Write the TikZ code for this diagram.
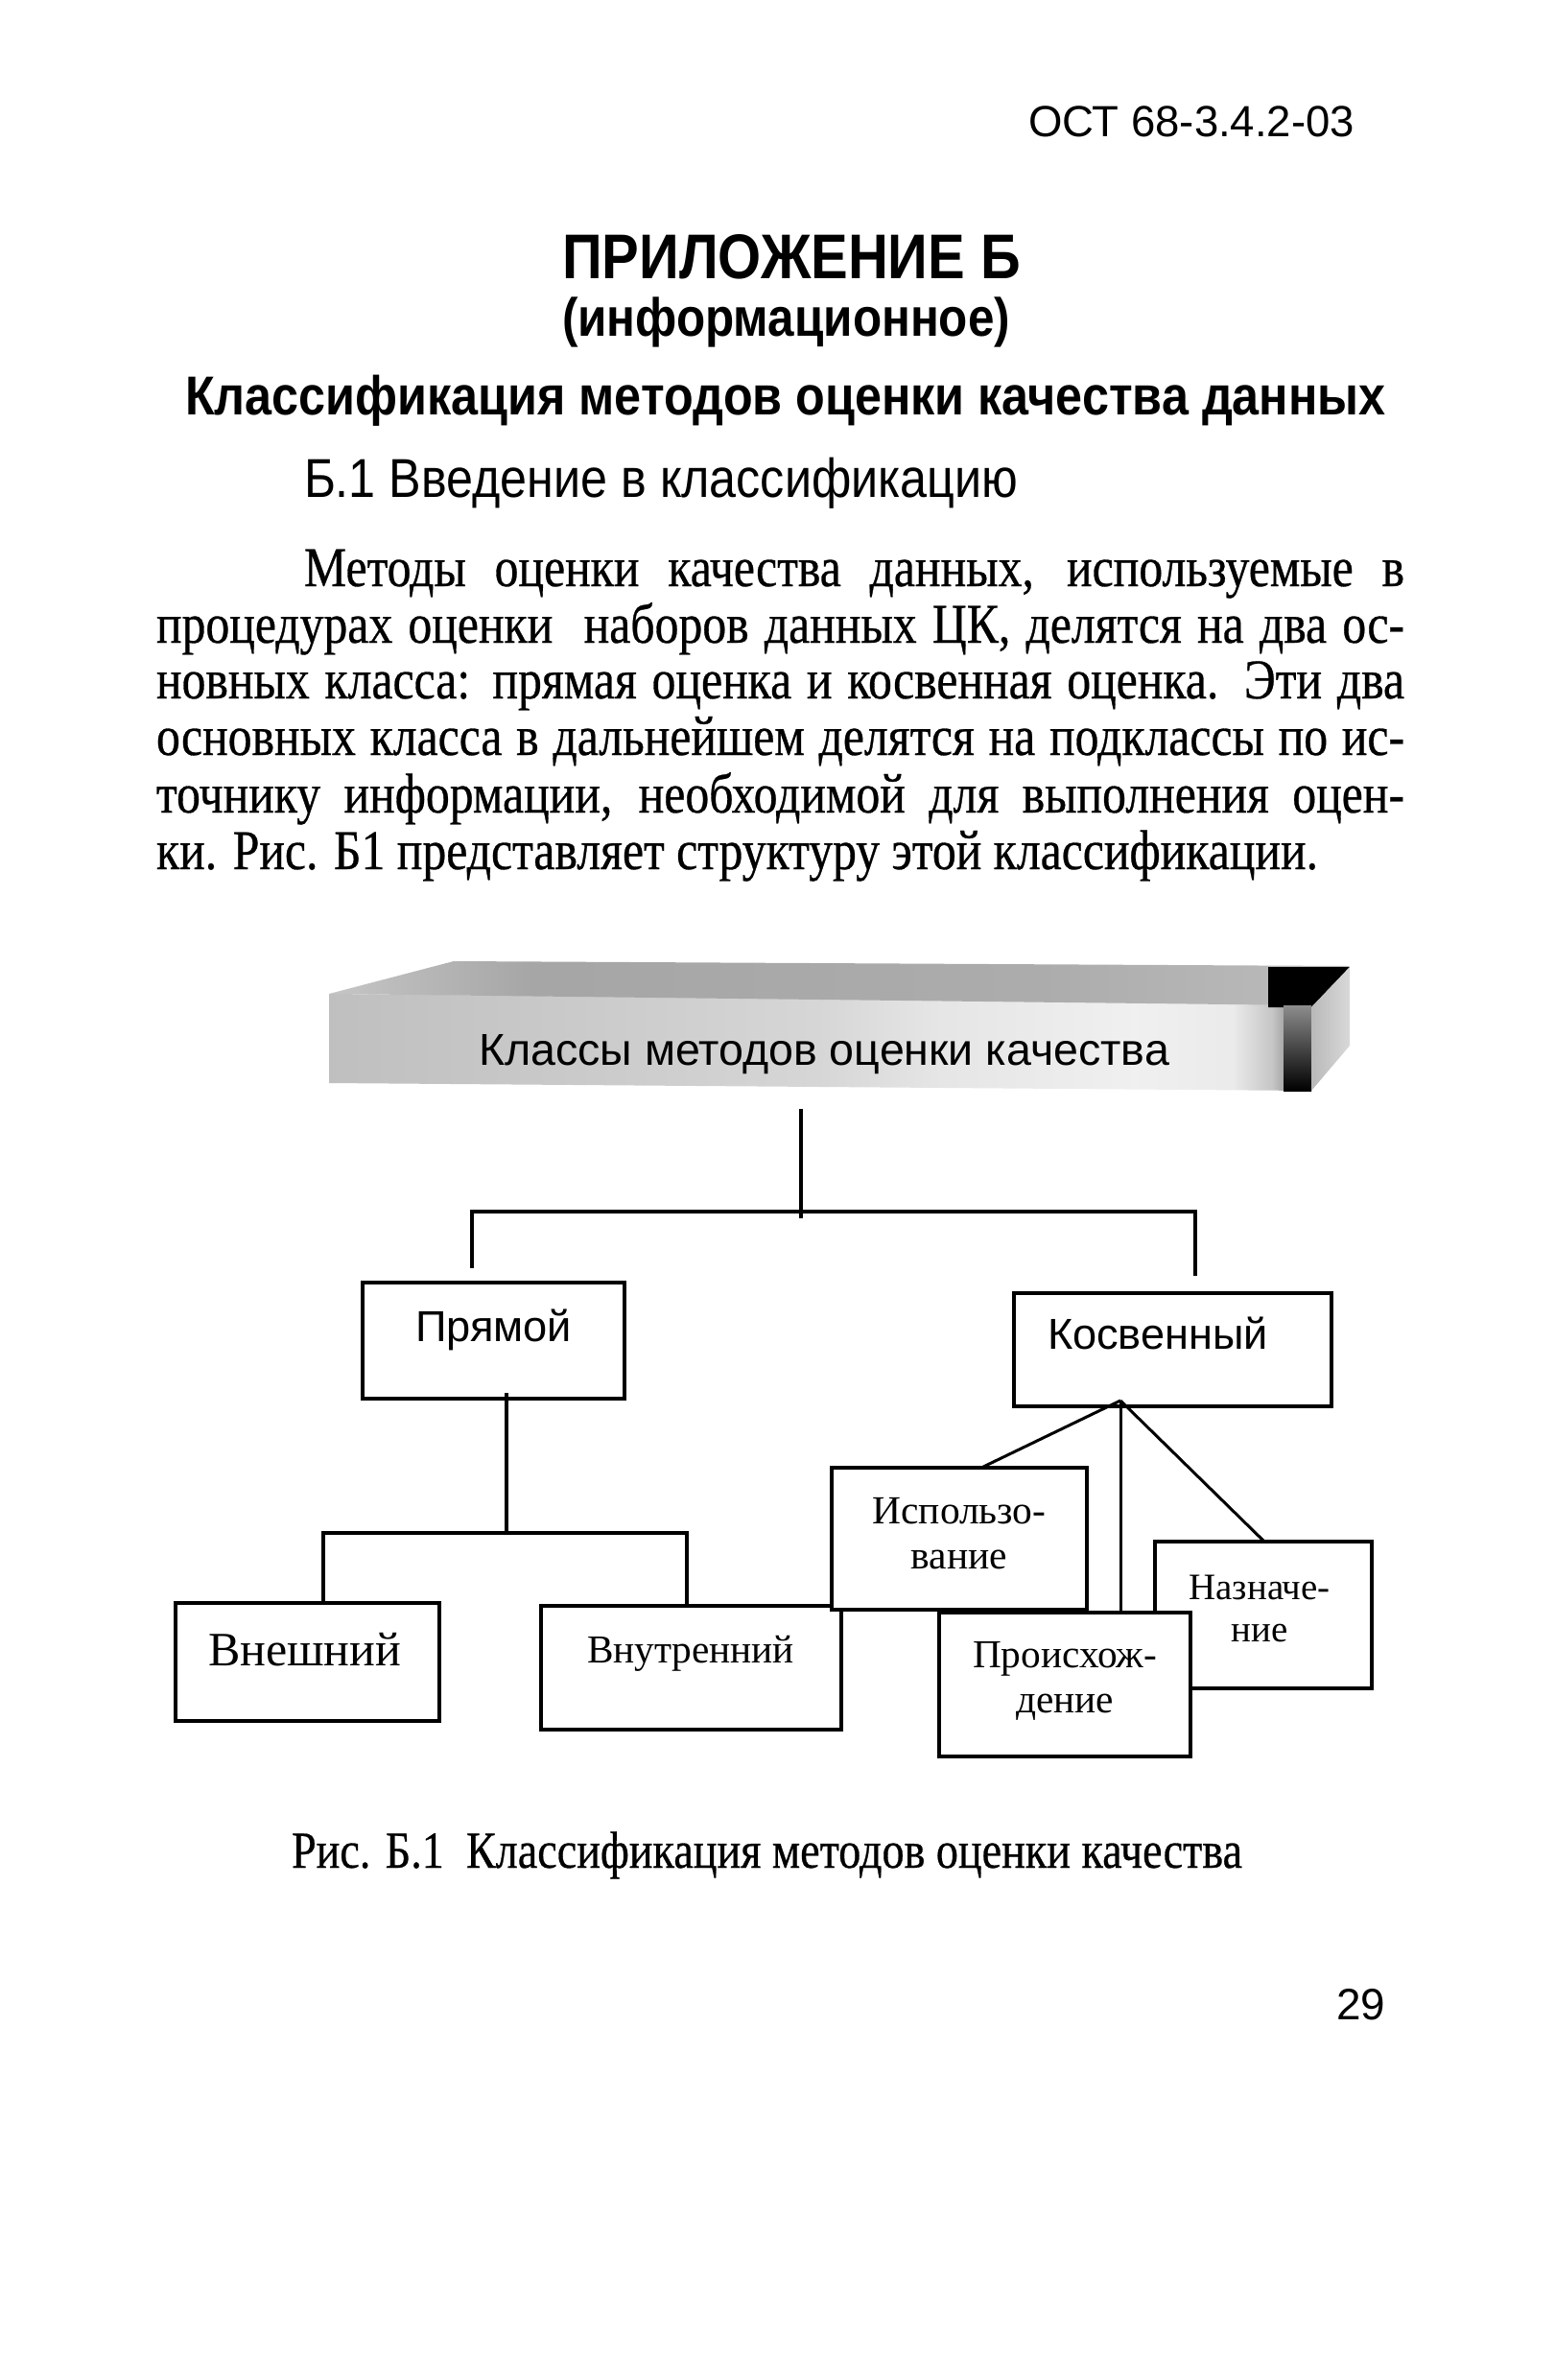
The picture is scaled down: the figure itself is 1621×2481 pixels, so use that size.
\documentclass[tikz,border=0pt]{standalone}
\usepackage{fontspec}
\usepackage{graphicx}
\setmainfont{Liberation Serif}
\setsansfont{Liberation Sans}
\newfontfamily\cserif[FakeStretch=0.85,FakeBold=0.5]{Liberation Serif}
\newfontfamily\csans[FakeStretch=0.88]{Liberation Sans}
\usetikzlibrary{calc}
\newlength\tmpw
\newcommand\fitsize[3]{\settowidth\tmpw{\fontsize{10pt}{12pt}\selectfont #3}\pgfmathsetmacro#1{10*#2/\tmpw}}
\pgfdeclarehorizontalshading{frontsh}{100bp}{color(0bp)=(gray!50); color(25bp)=(gray!50); color(37bp)=(gray!42); color(50bp)=(gray!32); color(56bp)=(gray!20); color(66bp)=(gray!12); color(71bp)=(gray!16); color(73bp)=(gray!45); color(74bp)=(gray!85); color(75bp)=(gray!80); color(100bp)=(gray!80)}
\pgfdeclarehorizontalshading{topsh}{100bp}{color(0bp)=(gray!45); color(25bp)=(gray!45); color(35bp)=(gray!70); color(60bp)=(gray!65); color(72bp)=(gray!55); color(75bp)=(gray!55); color(100bp)=(gray!55)}
\begin{document}
\fitsize\bsz{1211}{\cserif ки. Рис. Б1 представляет структуру этой классификации.}%
\begin{tikzpicture}[x=1pt,y=-1pt,
  txt/.style={inner sep=0pt, outer sep=0pt},
  bodyline/.style={txt, anchor=base west, font=\fontsize{\bsz pt}{\bsz pt}\cserif},
  box/.style={draw, line width=4.2pt, fill=white, inner sep=0pt, outer sep=0pt},
  conn/.style={line width=3.6pt},
  fan/.style={line width=3pt},
  two/.style={txt, anchor=base}]
\fill[white] (0,0) rectangle (1621,2481);
\useasboundingbox (0,0) rectangle (1621,2481);

% ---- page text ----
\node[txt, anchor=base west] (hdr) at (1072,142) {\resizebox{340pt}{!}{\sffamily ОСТ 68-3.4.2-03}};
\node[txt, anchor=base west] (app) at (586,290) {\resizebox{478pt}{!}{\csans\bfseries ПРИЛОЖЕНИЕ Б}};
\node[txt, anchor=base west] (inf) at (586,350) {\resizebox{467pt}{!}{\csans\bfseries (информационное)}};
\node[txt, anchor=base west] (ttl) at (193,432) {\resizebox{1251pt}{!}{\csans\bfseries Классификация методов оценки качества данных}};
\node[txt, anchor=base west] (sec) at (317,518) {\resizebox{744pt}{!}{\csans Б.1 Введение в классификацию}};

\node[bodyline] (l1) at (317,611) {\makebox[1147pt][s]{Методы оценки качества данных, используемые в}};
\node[bodyline] (l2) at (163,670) {\makebox[1301pt][s]{процедурах оценки\ \ наборов данных ЦК, делятся на два ос-}};
\node[bodyline] (l3) at (163,728) {\makebox[1301pt][s]{новных класса: прямая оценка и косвенная оценка. Эти два}};
\node[bodyline] (l4) at (163,787) {\makebox[1301pt][s]{основных класса в дальнейшем делятся на подклассы по ис-}};
\node[bodyline] (l5) at (163,847) {\makebox[1301pt][s]{точнику информации, необходимой для выполнения оцен-}};
\node[bodyline] (l6) at (163,906) {ки. Рис. Б1 представляет структуру этой классификации.};

\node[txt, anchor=base west] (cap) at (304,1947) {\resizebox{991pt}{!}{\cserif Рис. Б.1\ \ Классификация методов оценки качества}};
\node[txt, anchor=base east] (pg) at (1444,2105) {\resizebox{51pt}{!}{\sffamily 29}};

% ---- banner ----
\shade[shading=frontsh] (343,1036) -- (1367,1046) -- (1367,1137) -- (343,1129) -- cycle;
\shade[shading=topsh] (343,1036) -- (473,1002) -- (1407,1007) -- (1367,1048) -- cycle;
\fill[black] (1322,1008) -- (1407,1008) -- (1367,1050) -- (1322,1050) -- cycle;
\shade[top color=gray!90, bottom color=black] (1338,1048) rectangle (1367,1137);
\shade[left color=gray!55, right color=gray!30] (1367,1050) -- (1407,1008) -- (1407,1090) -- (1367,1137) -- cycle;
\node[txt, anchor=base west] (ban) at (499,1110) {\resizebox{720pt}{!}{\sffamily Классы методов оценки качества}};

% ---- boxes ----
\node[box, minimum width=273pt, minimum height=121pt] (prm) at (514.5,1397.5) {};
\node[box, minimum width=331pt, minimum height=118pt] (kos) at (1222.5,1407) {};
\node[box, minimum width=275pt, minimum height=123pt] (vne) at (320.5,1732.5) {};
\node[box, minimum width=313pt, minimum height=129pt] (vnu) at (720.5,1738.5) {};
\node[box, minimum width=266pt, minimum height=148pt] (isp) at (1000,1604) {};
\node[box, minimum width=226pt, minimum height=153pt] (naz) at (1317,1683.5) {};
\node[box, minimum width=262pt, minimum height=150pt] (pro) at (1110,1756) {};

% ---- labels ----
\node[txt, anchor=base west] (tprm) at (433,1398) {\resizebox{163pt}{!}{\sffamily Прямой}};
\node[txt, anchor=base west] (tkos) at (1092,1406) {\resizebox{230pt}{!}{\sffamily Косвенный}};
\node[txt, anchor=base west] (tvne) at (217,1736) {\resizebox{201pt}{!}{Внешний}};
\node[txt, anchor=base west] (tvnu) at (612,1733) {\resizebox{216pt}{!}{Внутренний}};
\node[two] (tisp) at (1000,1588) {\resizebox{181pt}{!}{\renewcommand\arraystretch{0.95}\begin{tabular}[t]{@{}c@{}}Использо-\\вание\end{tabular}}};
\node[two] (tnaz) at (1313,1667) {\resizebox{147pt}{!}{\renewcommand\arraystretch{0.95}\begin{tabular}[t]{@{}c@{}}Назначе-\\ние\end{tabular}}};
\node[two] (tpro) at (1110,1738) {\resizebox{192pt}{!}{\renewcommand\arraystretch{0.95}\begin{tabular}[t]{@{}c@{}}Происхож-\\дение\end{tabular}}};

% ---- connectors ----
\coordinate (t1) at (835,1156);
\coordinate (hub1) at (835,1263);
\coordinate (dl) at (492,1322);
\coordinate (dr) at (1246,1330);
\draw[conn] (t1) -- ($(hub1)+(0,7)$);
\draw[conn] (dl) |- (hub1) -| (dr);

\coordinate (p1) at (528,1598);
\draw[conn] ($(prm.south -| p1)+(0,-6)$) -- (p1);
\draw[conn] ($(vne.north west)+(154,0)$) |- (p1) -| ($(vnu.north west)+(152,0)$);

\coordinate (apex) at ($(kos.south west)+(111,-6)$);
\draw[fan] (apex) -- ($(isp.north west)+(156,0)$);
\draw[fan] (apex) -- (apex |- pro.north);
\draw[fan] (apex) -- ($(naz.north west)+(114,0)$);
\end{tikzpicture}
\end{document}
